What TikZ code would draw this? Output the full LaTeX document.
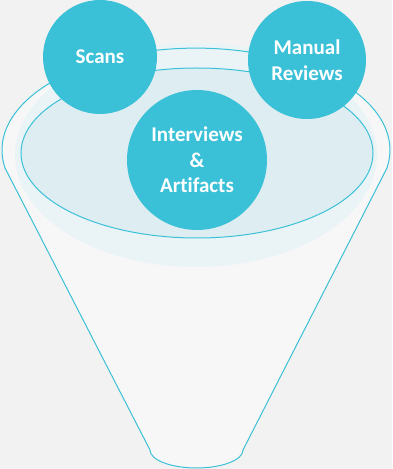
\documentclass[tikz,border=0pt]{standalone}
\usepackage{fontspec}
\setmainfont[Ligatures=NoCommon]{Carlito}
\definecolor{bgGray}{HTML}{F2F2F2}
\definecolor{bodyGray}{HTML}{F7F7F7}
\definecolor{rimBand}{HTML}{EAF4F7}
\definecolor{rimInner}{HTML}{DDEDF1}
\definecolor{funnelCyan}{HTML}{3BC1D7}
\begin{document}
\begin{tikzpicture}[x=1pt, y=1pt, line width=1pt,
        bubble/.style={circle, fill=funnelCyan, inner sep=0pt, text=white, align=center,
            font=\bfseries\fontsize{21}{25.5}\selectfont}]
        \useasboundingbox[fill=bgGray] (0,0) rectangle (392,469);
        % funnel body
        \fill[bodyGray] (5,301) arc[start angle=190.1, end angle=-10.1, x radius=194pt, y radius=102pt]
            -- (243,19) arc[start angle=0, end angle=-180, x radius=46.5pt, y radius=18pt] -- cycle;
        \fill[rimBand] (196,314) ellipse[x radius=181pt, y radius=112pt];
        \draw[funnelCyan] (5,301) arc[start angle=190.1, end angle=-10.1, x radius=194pt, y radius=102pt]
            -- (243,19) arc[start angle=0, end angle=-180, x radius=46.5pt, y radius=18pt] -- cycle;
        \draw[funnelCyan, fill=rimInner] (197,316) ellipse[x radius=176pt, y radius=85pt];
        % bubbles
        \node (scans) at (100,412)[bubble, minimum size=114pt]{Scans};
        \node (manual) at (307,409)[bubble, minimum size=118pt]{Manual\\Reviews};
        \node (interviews) at (197,309)[bubble, minimum size=140pt]{Interviews\\\&\\Artifacts};
    \end{tikzpicture}
\end{document}
